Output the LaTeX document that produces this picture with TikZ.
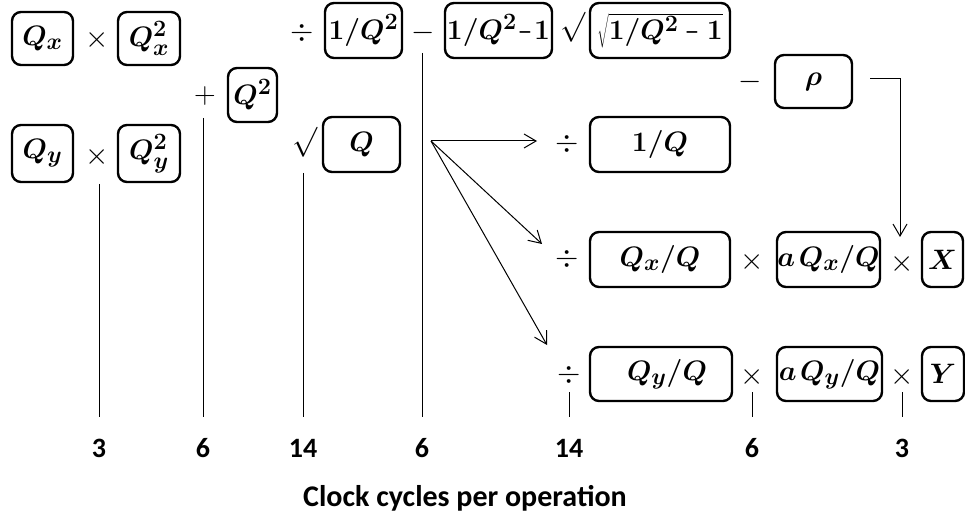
\RequirePackage{fix-cm}
\documentclass[tikz,border=0pt]{standalone}
\usepackage{fontspec}
\usepackage{bm}
\usetikzlibrary{arrows.meta}
\newfontfamily\carlito{Carlito}
\newcommand\nminus{\mathbin{\scalebox{0.55}[1]{$\boldsymbol{-}$}}}
\newcommand\bmx[1]{\scalebox{1.13}{$#1$}}
\begin{document}
\begin{tikzpicture}[x=1pt,y=-1pt,
  bx/.style={draw, line width=2.4pt, rounded corners=9pt, inner sep=0pt,
    font=\fontsize{24.88}{30}\selectfont\boldmath},
  op/.style={inner sep=0pt, font=\fontsize{30}{34}\selectfont},
  ln/.style={line width=1pt},
  ar/.style={line width=1pt, -{Straight Barb[length=12pt,width=14pt]}},
  num/.style={inner sep=0pt, font=\carlito\bfseries\fontsize{28}{32}\selectfont},
  capt/.style={inner sep=0pt, font=\carlito\bfseries\fontsize{30}{34}\selectfont}]
\useasboundingbox (0,0) rectangle (965,518);

% boxes
\node[bx, minimum width=61pt, minimum height=53pt] (qx)   at (42.5,38.5) {\bmx{Q_x}};
\node[bx, minimum width=62pt, minimum height=53pt] (qx2)  at (149,38.5) {\bmx{Q_x^2}};
\node[bx, minimum width=49pt, minimum height=54pt] (q2)   at (252.5,95) {\bmx{Q^2}};
\node[bx, minimum width=61pt, minimum height=57pt] (qy)   at (42.5,153.5) {\bmx{Q_y}};
\node[bx, minimum width=62pt, minimum height=57pt] (qy2)  at (149,153.5) {\bmx{Q_y^2}};
\node[bx, minimum width=77pt, minimum height=55pt] (iq2)  at (363.5,30.5) {\bmx{1/Q^2}};
\node[bx, minimum width=107pt, minimum height=55pt] (iq2m) at (498.5,30.5) {\bmx{1/Q^2\!\nminus\!1}};
\node[bx, minimum width=140pt, minimum height=55pt] (sq)   at (660,30.5) {\bmx{\sqrt{1/Q^2\nminus 1}}};
\node[bx, minimum width=77pt, minimum height=53pt] (rho)  at (813.5,81.5) {\bmx{\rho}};
\node[bx, minimum width=77pt, minimum height=55pt] (qb)   at (361.5,144.5) {\bmx{Q}};
\node[bx, minimum width=140pt, minimum height=55pt] (iq)   at (660,144.5) {\bmx{1/Q}};
\node[bx, minimum width=140pt, minimum height=55pt] (qxq)  at (660,259.5) {\bmx{Q_x/Q}};
\node[bx, minimum width=103pt, minimum height=55pt] (aqxq) at (828.5,259.5) {\bmx{a\mkern2mu Q_x/Q}};
\node[bx, minimum width=41pt, minimum height=55pt] (xb)   at (942.5,259.5) {\bmx{X}};
\node[bx, minimum width=142pt, minimum height=54pt] (qyq)  at (661,374) {\hspace*{12pt}\bmx{Q_y/Q}};
\node[bx, minimum width=105pt, minimum height=54pt] (aqyq) at (829.5,374) {\bmx{a\mkern2mu Q_y/Q}};
\node[bx, minimum width=42pt, minimum height=54pt] (yb)   at (943,374) {\bmx{Y}};

% operators
\node[op] (o1) at (97,40) {$\times$};
\node[op] (o2) at (97,157) {$\times$};
\node[op] (o3) at (205,96) {$+$};
\node[op] (o4) at (302,33) {$\div$};
\node[op] (o5) at (423,33) {$-$};
\node[op] (o6) at (573,27) {$\surd$};
\node[op] (o7) at (750,82) {$-$};
\node[op] (o8) at (305,142) {$\surd$};
\node[op] (o9) at (567,144) {$\div$};
\node[op] (o10) at (567,259) {$\div$};
\node[op] (o11) at (752,262) {$\times$};
\node[op] (o12) at (902,264) {$\times$};
\node[op] (o13) at (569,375) {$\div$};
\node[op] (o14) at (752,377) {$\times$};
\node[op] (o15) at (902,377) {$\times$};

% numbers
\node[num] (n1) at (99,448) {3};
\node[num] (n2) at (203,448) {6};
\node[num] (n3) at (303,448) {14};
\node[num] (n4) at (422,448) {6};
\node[num] (n5) at (569,448) {14};
\node[num] (n6) at (752,448) {6};
\node[num] (n7) at (902,448) {3};
\node[capt] (cap) at (465,498) {Clock cycles per operation};

% vertical lines
\coordinate (v1t) at (99,184);  \coordinate (v1b) at (99,417);
\coordinate (v2t) at (203,118); \coordinate (v2b) at (203,417);
\coordinate (v3t) at (303,173); \coordinate (v3b) at (303,417);
\coordinate (v4t) at (422,53);  \coordinate (v4b) at (422,417);
\coordinate (v5t) at (569,392); \coordinate (v5b) at (569,417);
\coordinate (v6t) at (752,392); \coordinate (v6b) at (752,417);
\coordinate (v7t) at (902,392); \coordinate (v7b) at (902,417);
\foreach \i in {1,...,7} {\draw[ln] (v\i t) -- (v\i b);}

% fan of arrows
\coordinate (fan) at (431,141);
\coordinate (a1) at (537,141);
\coordinate (a2) at (542,244);
\coordinate (a3) at (547,345);
\draw[ar] (fan) -- (a1);
\draw[ar] (fan) -- (a2);
\draw[ar] (fan) -- (a3);

% rho arrow
\coordinate (r0) at (870,79);
\coordinate (r1) at (900,79);
\coordinate (r2) at (900,237);
\draw[ar] (r0) -- (r1) -- (r2);
\end{tikzpicture}
\end{document}
